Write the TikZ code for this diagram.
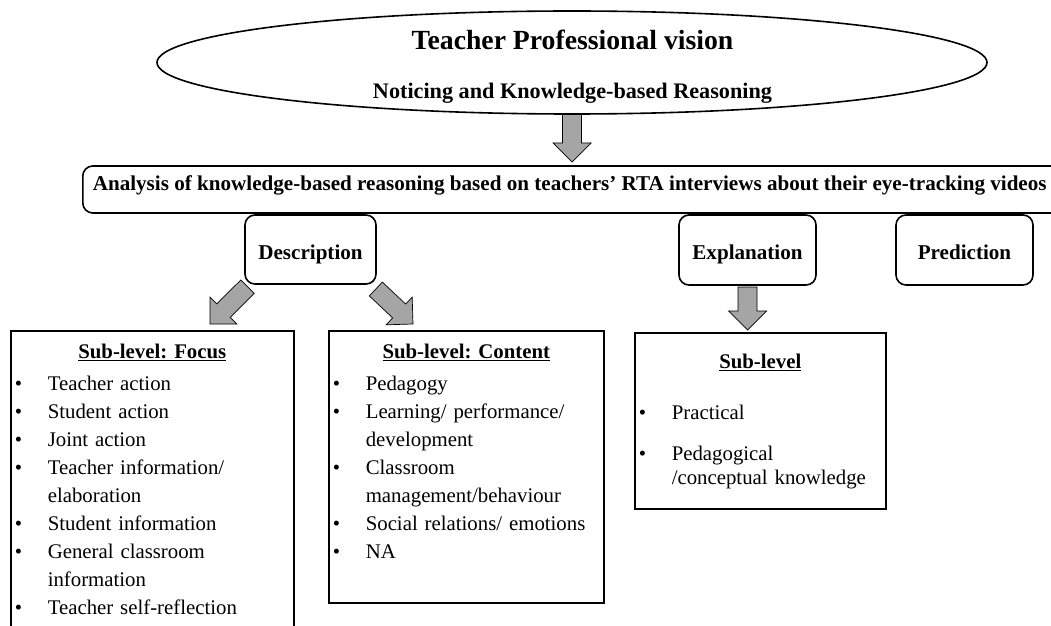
\documentclass[tikz,border=0pt]{standalone}
\usepackage{fontspec}
\setmainfont{Liberation Serif}
\usetikzlibrary{shapes.geometric,calc}
\frenchspacing

\definecolor{arrowgray}{HTML}{A5A5A5}
\newcommand{\titlesize}{\fontsize{27.7}{33}\selectfont}
\newcommand{\subtitlesize}{\fontsize{22.2}{27}\selectfont}
\newcommand{\labelsize}{\fontsize{21.1}{26}\selectfont}
\newcommand{\bodysize}{\fontsize{20.8}{28}\selectfont}
\newcommand{\arrshaft}{9.5pt}
\newcommand{\arrwing}{19pt}
\newcommand{\arrhead}{19pt}
\newcommand{\bitem}[1]{\par\noindent\hangindent=37pt\hangafter=1\makebox[37pt][l]{\hspace{4pt}\textbullet}#1}
\newcommand{\fatarrow}[2]{%
	\coordinate (#1-#2) at ($(#2)!\arrhead!(#1)$);
	\draw[fatarrow] ($(#1)!\arrshaft!90:(#2)$) -- ($(#1-#2)!\arrshaft!90:(#2)$) -- ($(#1-#2)!\arrwing!90:(#2)$) -- (#2)
		-- ($(#1-#2)!\arrwing!-90:(#2)$) -- ($(#1-#2)!\arrshaft!-90:(#2)$) -- ($(#1)!\arrshaft!-90:(#2)$) -- cycle;
}

\begin{document}
\begin{tikzpicture}[
		x=1pt, y=1pt,
		visionellipse/.style={ellipse,draw,line width=1.6pt,minimum width=830pt,minimum height=103pt,inner sep=0pt},
		stagebox/.style={draw,rounded corners=10pt,line width=1.6pt,inner ysep=0pt,font=\labelsize\bfseries},
		listbox/.style={draw,line width=1.6pt,anchor=north west,inner sep=0pt,align=left,font=\bodysize},
		fatarrow/.style={draw,line width=0.7pt,fill=arrowgray}
		]
		\useasboundingbox (0,0) rectangle (1051,625);
		\clip (0,0) rectangle (1051,625);

		\node[visionellipse] (vision) at (572,562.5) {};
		\node[anchor=base,font=\titlesize\bfseries] (tpv) at (572.5,575) {Teacher Professional vision};
		\node[anchor=base,font=\subtitlesize\bfseries] (nkr) at (572.5,526) {Noticing and Knowledge-based Reasoning};

		\node[stagebox,anchor=base west,text height=24pt,text depth=23pt,inner xsep=10pt] (analysis) at (82,435)
			{Analysis of knowledge-based reasoning based on teachers’ RTA interviews about their eye-tracking videos\rule{30pt}{0pt}};

		\node[stagebox,anchor=base,minimum width=131pt,text height=44pt,text depth=25pt,inner xsep=0pt] (desc) at (310.5,366) {Description};
		\node[stagebox,anchor=base,minimum width=137pt,text height=44pt,text depth=26pt,inner xsep=0pt] (expl) at (747.5,366) {Explanation};
		\node[stagebox,anchor=base,minimum width=137pt,text height=44pt,text depth=26pt,inner xsep=0pt] (pred) at (964.5,366) {Prediction};

		\node[listbox,text width=283pt,text height=28pt,text depth=300pt] (focus) at (10,295) {%
			{\centering\underline{\textbf{Sub-level: Focus}}\par}\vspace{4pt}
			\bitem{Teacher action}
			\bitem{Student action}
			\bitem{Joint action}
			\bitem{Teacher information/\newline elaboration}
			\bitem{Student information}
			\bitem{General classroom\newline information}
			\bitem{Teacher self-reflection}\par};
		\node[listbox,text width=275pt,text height=28pt,text depth=244pt] (content) at (328,295) {%
			{\centering\underline{\textbf{Sub-level: Content}}\par}\vspace{4pt}
			\bitem{Pedagogy}
			\bitem{Learning/ performance/\newline development}
			\bitem{Classroom\newline management/behaviour}
			\bitem{Social relations/ emotions}
			\bitem{NA}\par};
		\node[listbox,text width=251pt,text height=36pt,text depth=140pt,font=\fontsize{20.8}{24}\selectfont] (sublevel) at (634,293) {%
			{\centering\underline{\textbf{Sub-level}}\par}\vspace{27pt}
			\bitem{Practical}\par\vspace{17pt}
			\bitem{Pedagogical\newline /conceptual knowledge}\par};

		\coordinate (visionfoot) at (572,510.5);
		\coordinate (analysistop) at (572,463);
		\coordinate (descleft) at (247.5,338.3);
		\coordinate (focustop) at (210,301);
		\coordinate (descright) at (375.8,336);
		\coordinate (contenttop) at (413,301);
		\coordinate (explfoot) at (747.5,338);
		\coordinate (subtop) at (747.5,295);

		\fatarrow{visionfoot}{analysistop}
		\fatarrow{descleft}{focustop}
		\fatarrow{descright}{contenttop}
		\fatarrow{explfoot}{subtop}
\end{tikzpicture}
\end{document}
